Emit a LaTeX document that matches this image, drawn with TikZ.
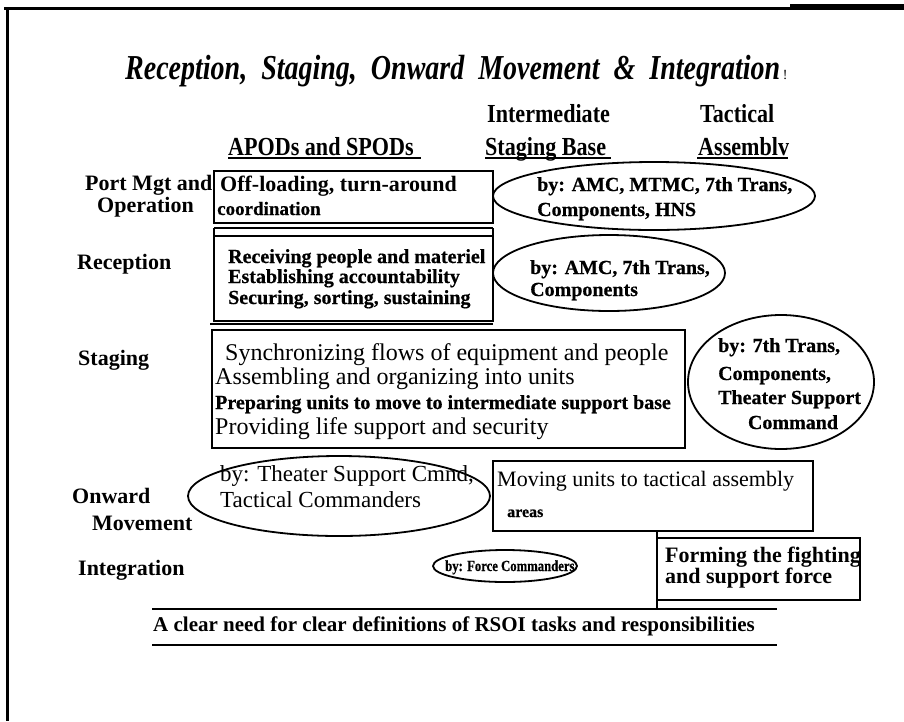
\documentclass[tikz,border=0pt]{standalone}
\usepackage{fontspec}
\setmainfont{Liberation Serif}
\newfontfamily\titlefont[FakeStretch=0.8]{Liberation Serif}
\newfontfamily\hdrfont[FakeStretch=0.85]{Liberation Serif}
\newfontfamily\heavyfont[FakeBold=0.6]{Liberation Serif Bold}
\newfontfamily\heavycond[FakeBold=0.6,FakeStretch=0.82]{Liberation Serif Bold}
\usetikzlibrary{shapes.geometric}
\begin{document}
\begin{tikzpicture}[x=1pt,y=-1pt,
  txt/.style={anchor=base west,inner sep=0pt},
  ttl/.style={txt,font=\titlefont\fontsize{35}{38}\selectfont\bfseries\itshape},
  hdr/.style={txt,font=\hdrfont\fontsize{26}{28}\selectfont\bfseries},
  lab/.style={txt,font=\fontsize{22}{24}\selectfont\bfseries},
  reg/.style={txt,font=\fontsize{24}{26}\selectfont},
  bld/.style={txt,font=\fontsize{22}{24}\selectfont\bfseries},
  hvy/.style={txt,font=\heavyfont\fontsize{20}{22}\selectfont},
  frame/.style={line width=2.5pt},
  oval/.style={line width=1.8pt},
  rule/.style={line width=2pt}]
\useasboundingbox (0,0) rectangle (904,721);
\fill[white] (0,0) rectangle (904,721);
% page frame
\draw[line width=3pt] (4,8) -- (790,8);
\fill[black] (790,4) rectangle (904,9.5);
\draw[line width=3pt] (7,8) -- (7,721);
% title and headers
\node[ttl] (title) at (125,79) {Reception,\ \ Staging,\ \ Onward\ \ Movement\ \ \&\ \ Integration};
\node[txt,font=\fontsize{14}{16}\selectfont,anchor=base west] (bang) at (title.base east) {\,!};
\node[hdr] (hint) at (487,122) {Intermediate};
\node[hdr] (htac) at (700,122) {Tactical};
\node[hdr] (hapod) at (228,155) {APODs and SPODs};
\node[hdr] (hisb) at (485,155) {Staging Base};
\node[hdr] (hasm) at (698,155) {Assemblv};
\coordinate (u1a) at (228,158); \coordinate (u1b) at (421,158);
\coordinate (u2a) at (485,158); \coordinate (u2b) at (611,158);
\coordinate (u3a) at (697,158); \coordinate (u3b) at (788,158);
\draw[rule] (u1a) -- (u1b);
\draw[rule] (u2a) -- (u2b);
\draw[rule] (u3a) -- (u3b);
% row labels
\node[lab] (l1a) at (85,190) {Port Mgt and};
\node[lab] (l1b) at (97,212) {Operation};
\node[lab] (l2) at (77,269) {Reception};
\node[lab] (l3) at (78,365) {Staging};
\node[lab] (l4a) at (72,503) {Onward};
\node[lab] (l4b) at (92,530) {Movement};
\node[lab] (l5) at (78,575) {Integration};
% box 1
\draw[frame] (214,171) rectangle (493,223);
\node[bld] (b1a) at (220,191) {Off-loading, turn-around};
\node[hvy,font=\heavyfont\fontsize{19}{21}\selectfont] (b1b) at (217,215) {coordination};
% box 2
\draw[line width=1.2pt] (214,228) -- (493,228);
\draw[line width=1.2pt] (210,324) -- (493,324);
\draw[frame] (214,236) rectangle (493,321);
\draw[frame] (214,228) -- (214,236) (493,228) -- (493,236);
\node[hvy] (b2a) at (228,263) {Receiving people and materiel};
\node[hvy] (b2b) at (228,283) {Establishing accountability};
\node[hvy] (b2c) at (228,304) {Securing, sorting, sustaining};
% ellipse 1
\draw[oval] (654,196) ellipse [x radius=161, y radius=34];
\node[hvy] (e1a) at (537,191) {by: AMC, MTMC, 7th Trans,};
\node[hvy] (e1b) at (537,216) {Components, HNS};
% ellipse 2
\draw[oval] (609,273) ellipse [x radius=116, y radius=38];
\node[hvy] (e2a) at (530,274) {by: AMC, 7th Trans,};
\node[hvy] (e2b) at (530,296) {Components};
% box 3
\draw[frame] (212,330) rectangle (685,448);
\node[reg] (b3a) at (225,360) {Synchronizing flows of equipment and people};
\node[reg] (b3b) at (215,384) {Assembling and organizing into units};
\node[hvy] (b3c) at (215,409) {Preparing units to move to intermediate support base};
\node[reg] (b3d) at (215,434) {Providing life support and security};
% ellipse 3
\draw[oval] (781,382) ellipse [x radius=93, y radius=67];
\node[hvy] (e3a) at (718,352) {by: 7th Trans,};
\node[hvy] (e3b) at (718,380) {Components,};
\node[hvy] (e3c) at (718,404) {Theater Support};
\node[hvy,anchor=base] (e3d) at (793,429) {Command};
% ellipse 4
\draw[oval] (339,496) ellipse [x radius=151, y radius=40];
\node[reg,font=\fontsize{23}{25}\selectfont] (e4a) at (220,481) {by: Theater Support Cmnd,};
\node[reg,font=\fontsize{23}{25}\selectfont] (e4b) at (220,507) {Tactical Commanders};
% box 4
\draw[frame] (493,461) rectangle (813,531);
\node[reg,font=\fontsize{22}{24}\selectfont] (b4a) at (497,486) {Moving units to tactical assembly};
\node[hvy,font=\heavyfont\fontsize{16}{18}\selectfont] (b4b) at (507,517) {areas};
% ellipse 5
\draw[oval] (505,566) ellipse [x radius=72, y radius=16];
\node[txt,font=\heavycond\fontsize{15.5}{17}\selectfont] (e5) at (445,571) {by: Force Commanders};
% box 5
\draw[frame] (657,538) rectangle (860,600);
\draw[line width=2pt] (657,531) -- (657,609);
\node[bld] (b5a) at (665,562) {Forming the fighting};
\node[bld] (b5b) at (665,583) {and support force};
% bottom note
\coordinate (r1a) at (152,609); \coordinate (r1b) at (777,609);
\coordinate (r2a) at (152,645); \coordinate (r2b) at (777,645);
\draw[rule] (r1a) -- (r1b);
\draw[rule] (r2a) -- (r2b);
\node[txt,font=\fontsize{21}{23}\selectfont\bfseries] (note) at (153,631) {A clear need for clear definitions of RSOI tasks and responsibilities};
\end{tikzpicture}
\end{document}
